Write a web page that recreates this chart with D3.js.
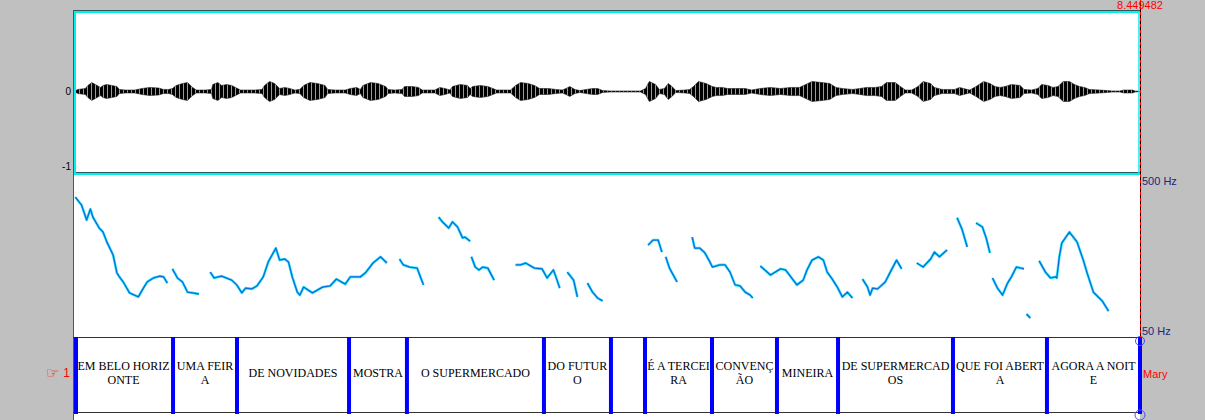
<!DOCTYPE html>
<html>
<head>
<meta charset="utf-8">
<script src="https://cdn.jsdelivr.net/npm/d3@7"></script>
<style>
body { margin: 0; background: #c0c0c0; overflow: hidden; }
svg { display: block; }
.lbl { font-family: Arial, "Liberation Sans", sans-serif; font-size: 11px; }
.tier text { font-family: "Liberation Serif", "Times New Roman", serif; font-size: 12px; fill: #000; }
</style>
</head>
<body>
<div id="chart"></div>
<script>
// total duration of the sound (s)
var duration = 8.449482;

// amplitude envelope of the waveform (time in s, peak amplitude)
var waveTime = [0.00,0.03,0.09,0.11,0.14,0.17,0.21,0.23,0.26,0.30,0.34,0.36,0.41,0.48,0.54,0.60,0.67,0.71,0.75,0.78,
  0.81,0.86,0.90,0.94,0.97,1.04,1.09,1.10,1.14,1.17,1.21,1.25,1.28,1.32,1.43,1.49,1.51,1.55,1.59,1.63,
  1.67,1.71,1.75,1.79,1.82,1.87,1.93,1.99,2.01,2.07,2.15,2.19,2.24,2.27,2.29,2.35,2.41,2.47,2.49,2.54,
  2.60,2.62,2.68,2.73,2.76,2.86,2.90,2.94,2.98,3.00,3.06,3.12,3.14,3.16,3.22,3.28,3.32,3.35,3.46,3.50,
  3.54,3.60,3.65,3.69,3.76,3.82,3.87,3.90,3.93,3.97,4.01,4.06,4.11,4.15,4.19,4.25,4.49,4.53,4.56,4.61,
  4.64,4.68,4.71,4.74,4.77,4.84,4.88,4.91,4.95,5.01,5.06,5.09,5.14,5.18,5.24,5.32,5.37,5.44,5.52,5.60,
  5.68,5.75,5.80,5.85,5.93,5.99,6.04,6.09,6.17,6.23,6.28,6.35,6.40,6.44,6.51,6.55,6.59,6.64,6.69,6.73,
  6.79,6.82,6.88,6.98,7.02,7.05,7.10,7.15,7.21,7.26,7.30,7.34,7.38,7.43,7.50,7.53,7.59,7.64,7.67,7.72,
  7.76,7.80,7.84,7.89,7.93,7.97,8.01,8.05,8.13,8.19,8.23,8.29,8.32,8.39,8.41,8.45];
var waveAmp = [0,0.025,0.037,0.074,0.11,0.086,0.05,0.074,0.086,0.074,0.061,0.025,0.018,0.018,0.037,0.05,0.043,0.025,0.025,0.037,
  0.074,0.098,0.11,0.05,0.018,0.018,0.025,0.086,0.11,0.074,0.086,0.074,0.05,0.018,0.018,0.025,0.074,0.123,0.098,0.037,
  0.05,0.037,0.018,0.025,0.074,0.11,0.098,0.074,0.025,0.018,0.018,0.037,0.05,0.025,0.074,0.11,0.098,0.061,0.025,0.018,
  0.025,0.061,0.061,0.05,0.018,0.018,0.05,0.037,0.018,0.061,0.086,0.074,0.037,0.061,0.074,0.061,0.037,0.018,0.018,0.074,
  0.11,0.098,0.074,0.037,0.037,0.025,0.018,0.037,0.061,0.025,0.012,0.025,0.037,0.037,0.012,0.006,0.006,0.037,0.123,0.086,
  0.025,0.037,0.098,0.061,0.012,0.018,0.025,0.061,0.123,0.098,0.061,0.05,0.05,0.037,0.037,0.037,0.018,0.037,0.05,0.037,
  0.05,0.05,0.086,0.123,0.11,0.098,0.05,0.037,0.025,0.037,0.05,0.05,0.061,0.11,0.11,0.061,0.018,0.018,0.061,0.123,
  0.098,0.05,0.025,0.025,0.05,0.037,0.018,0.061,0.123,0.098,0.061,0.05,0.061,0.086,0.074,0.025,0.018,0.037,0.086,0.074,
  0.05,0.061,0.123,0.123,0.086,0.061,0.05,0.025,0.018,0.012,0.006,0.006,0.018,0.018,0.006,0];

// pitch contour, one array per voiced stretch (time in s, F0 in Hz)
var pitchTimes = [
  [0.01,0.06,0.10,0.13,0.15,0.20,0.23,0.26,0.31,0.34,0.36,0.39,0.44,0.51,0.55,0.58,0.63,0.68,0.71,0.74],
  [0.78,0.82,0.86,0.90,0.94,0.99],
  [1.08,1.11,1.17,1.25,1.29,1.33,1.36,1.41,1.45,1.50,1.54,1.60,1.63,1.67,1.70,1.73,1.77,1.79,1.82,1.89,1.97,2.03,2.08,2.15,2.19,2.27,2.31,2.37,2.43,2.48],
  [2.58,2.61,2.66,2.72,2.74,2.77],
  [2.89,2.92,2.97,3.00,3.04,3.08,3.10,3.14],
  [3.15,3.18,3.21,3.24,3.28,3.33],
  [3.50,3.54,3.58,3.65,3.71,3.75,3.80,3.82,3.85],
  [3.91,3.96,3.99],
  [4.07,4.11,4.15,4.19],
  [4.55,4.59,4.63,4.66],
  [4.69,4.72,4.78],
  [4.90,4.92,4.96,5.00,5.04,5.06,5.12,5.16,5.20,5.24,5.28,5.32,5.36,5.38],
  [5.44,5.52,5.60,5.64,5.73,5.78,5.81,5.85,5.90,5.94,5.97,6.01,6.05,6.09,6.13,6.17],
  [6.25,6.29,6.31,6.33,6.37,6.43,6.47,6.52,6.56],
  [6.68,6.73,6.79,6.82,6.86,6.92],
  [7.00,7.04,7.08],
  [7.15,7.20,7.23,7.26],
  [7.28,7.32,7.36,7.40,7.43,7.47,7.53],
  [7.55,7.58],
  [7.65,7.70,7.74,7.78,7.79,7.81,7.83,7.89,7.95,8.00,8.03,8.08,8.15,8.20]
];
var pitchHz = [
  [434,412,371,401,379,349,338,311,275,226,215,201,171,160,184,201,212,217,215,198],
  [237,212,201,173,171,168],
  [228,212,217,206,193,171,184,182,190,215,256,294,261,264,256,215,173,165,187,171,187,190,209,195,215,215,226,253,270,253],
  [264,248,242,239,220,193],
  [379,366,349,366,352,322,324,313],
  [270,242,234,242,239,206],
  [248,248,253,239,237,212,234,215,184],
  [228,206,160],
  [198,173,157,149],
  [302,316,316,283],
  [270,239,201],
  [324,294,294,281,256,242,248,248,228,193,190,173,165,157],
  [245,220,237,234,193,206,234,261,270,261,228,209,187,160,173,157],
  [209,187,165,184,182,201,228,261,237],
  [253,242,264,283,270,289],
  [377,344,297],
  [363,352,322,281],
  [212,184,165,198,215,242,237],
  [113,102],
  [259,228,212,215,212,270,308,338,311,261,226,173,149,121]
];

// interval tier "Mary"
var tierBounds = [0,0.785,1.292,2.180,2.639,3.725,4.256,4.526,5.057,5.572,6.056,6.967,7.712,duration];
var tierLabels = ["EM BELO HORIZ\nONTE","UMA FEIR\nA","DE NOVIDADES","MOSTRA","O SUPERMERCADO","DO FUTUR\nO","",
  "É A TERCEI\nRA","CONVENÇ\nÃO","MINEIRA","DE SUPERMERCAD\nOS","QUE FOI ABERT\nA","AGORA A NOIT\nE"];
var tierName = "Mary";

var width = 1205, height = 420;
var left = 74, right = 1140;

var svg = d3.select("#chart").append("svg")
    .attr("width", width)
    .attr("height", height);

var x = d3.scaleLinear().domain([0, duration]).range([left, right]);
var yWave = d3.scaleLinear().domain([-1, 1]).range([173, 10]);
var yPitch = d3.scaleLinear().domain([50, 500]).range([337, 173]);

// texture for the waveform bursts
var pat = svg.append("defs").append("pattern")
    .attr("id", "stripes")
    .attr("patternUnits", "userSpaceOnUse")
    .attr("width", 4).attr("height", 8);
pat.append("rect").attr("width", 4).attr("height", 8).attr("fill", "#000");
pat.append("rect").attr("x", 3).attr("width", 1).attr("height", 8).attr("fill", "#9a9a9a");

svg.append("rect")
    .attr("x", left).attr("y", 10)
    .attr("width", right - left).attr("height", height - 10)
    .attr("fill", "#fff");

// waveform
svg.append("line")
    .attr("x1", left).attr("x2", right)
    .attr("y1", yWave(0)).attr("y2", yWave(0))
    .attr("stroke", "#4a6a6a").attr("stroke-width", 1);

var wave = waveTime.map(function(t, i) { return {t: t, a: waveAmp[i]}; });
var area = d3.area()
    .x(function(d) { return x(d.t); })
    .y0(function(d) { return yWave(-d.a); })
    .y1(function(d) { return yWave(d.a); })
    .curve(d3.curveLinear);
svg.append("path")
    .datum(wave)
    .attr("d", area)
    .attr("fill", "url(#stripes)")
    .attr("stroke", "#222")
    .attr("stroke-width", 0.6);

svg.append("text").attr("class", "lbl")
    .attr("x", 71).attr("y", yWave(0)).attr("dy", "0.35em")
    .attr("text-anchor", "end").style("font-size", "10px").text("0");
svg.append("text").attr("class", "lbl")
    .attr("x", 71).attr("y", 166).attr("dy", "0.35em")
    .attr("text-anchor", "end").style("font-size", "10px").text("-1");

// frame of the waveform channel
svg.append("line").attr("x1", 73).attr("x2", right).attr("y1", 10.5).attr("y2", 10.5).attr("stroke", "#2b5a5a");
svg.append("line").attr("x1", 74).attr("x2", right).attr("y1", 12).attr("y2", 12).attr("stroke", "#00f0f0").attr("stroke-width", 2);
svg.append("line").attr("x1", 74).attr("x2", right).attr("y1", 172.5).attr("y2", 172.5).attr("stroke", "#2b5a5a");
svg.append("line").attr("x1", 74).attr("x2", right).attr("y1", 174).attr("y2", 174).attr("stroke", "#00f0f0").attr("stroke-width", 2);
svg.append("line").attr("x1", 75).attr("x2", 75).attr("y1", 11).attr("y2", 173).attr("stroke", "#00f0f0").attr("stroke-width", 2);
svg.append("line").attr("x1", 1139).attr("x2", 1139).attr("y1", 11).attr("y2", 173).attr("stroke", "#00f0f0").attr("stroke-width", 1.5);
svg.append("line").attr("x1", 73.5).attr("x2", 73.5).attr("y1", 10).attr("y2", height).attr("stroke", "#555");

// pitch
var pitchLine = d3.line()
    .x(function(d) { return x(d[0]); })
    .y(function(d) { return yPitch(d[1]); });
var segs = pitchTimes.map(function(ts, i) {
  return ts.map(function(t, j) { return [t, pitchHz[i][j]]; });
});
svg.selectAll(".pitch-halo")
    .data(segs)
    .enter().append("path")
    .attr("class", "pitch-halo")
    .attr("d", pitchLine)
    .attr("fill", "none")
    .attr("stroke", "#33e6ff")
    .attr("stroke-width", 2.6)
    .attr("stroke-linejoin", "round");
svg.selectAll(".pitch")
    .data(segs)
    .enter().append("path")
    .attr("class", "pitch")
    .attr("d", pitchLine)
    .attr("fill", "none")
    .attr("stroke", "#0a6fd8")
    .attr("stroke-width", 1.3)
    .attr("stroke-linejoin", "round");

svg.append("text").attr("class", "lbl")
    .attr("x", 1142).attr("y", 181).attr("dy", "0.35em")
    .attr("fill", "#23237a").text("500 Hz");
svg.append("text").attr("class", "lbl")
    .attr("x", 1142).attr("y", 331).attr("dy", "0.35em")
    .attr("fill", "#23237a").text("50 Hz");

// interval tier
var tier = svg.append("g").attr("class", "tier");
tier.append("line").attr("x1", 73).attr("x2", right).attr("y1", 337.5).attr("y2", 337.5).attr("stroke", "#333");
tier.append("line").attr("x1", 73).attr("x2", right).attr("y1", 412.5).attr("y2", 412.5).attr("stroke", "#333");

var intervals = tierLabels.map(function(s, i) {
  return {t0: tierBounds[i], t1: tierBounds[i + 1], text: s};
});
var labels = tier.selectAll(".intv")
    .data(intervals)
    .enter().append("text")
    .attr("class", "intv")
    .attr("text-anchor", "middle");
labels.each(function(d) {
  var lines = d.text.split("\n");
  var cx = (x(d.t0) + x(d.t1)) / 2;
  var y0 = lines.length > 1 ? 366 : 373;
  d3.select(this).selectAll("tspan")
      .data(lines)
      .enter().append("tspan")
      .attr("x", cx)
      .attr("y", function(l, k) { return y0 + k * 14; })
      .attr("dy", "0.35em")
      .text(function(l) { return l; });
});

tier.selectAll(".bound")
    .data(tierBounds)
    .enter().append("rect")
    .attr("class", "bound")
    .attr("x", function(d) { return Math.max(left, Math.min(right - 2, x(d) - 2)); })
    .attr("y", 337)
    .attr("width", 4)
    .attr("height", 77)
    .attr("fill", "#0000ff");

svg.append("circle").attr("cx", right).attr("cy", 341).attr("r", 4.5)
    .attr("fill", "none").attr("stroke", "#4b4bff");
svg.append("circle").attr("cx", right).attr("cy", 415).attr("r", 5)
    .attr("fill", "none").attr("stroke", "#4b4bff");

svg.append("text").attr("class", "lbl")
    .attr("x", 1143).attr("y", 374).attr("dy", "0.35em")
    .attr("fill", "#ff0000").text(tierName);
svg.append("text").attr("class", "lbl")
    .attr("x", 59).attr("y", 373).attr("dy", "0.35em")
    .attr("text-anchor", "end").style("font-size", "15px")
    .attr("fill", "#ff0000").text("\u261E");
svg.append("text").attr("class", "lbl")
    .attr("x", 70).attr("y", 373).attr("dy", "0.35em")
    .attr("text-anchor", "end").style("font-size", "12px")
    .attr("fill", "#ff0000").text("1");

// cursor at the end of the sound
svg.append("line").attr("x1", right + 0.5).attr("x2", right + 0.5)
    .attr("y1", 0).attr("y2", 337).attr("stroke", "#000");
svg.append("line").attr("x1", right + 0.5).attr("x2", right + 0.5)
    .attr("y1", 0).attr("y2", 337).attr("stroke", "#ff0000")
    .attr("stroke-dasharray", "3,3");
svg.append("text").attr("class", "lbl")
    .attr("x", right).attr("y", 9)
    .attr("text-anchor", "middle")
    .attr("fill", "#ff0000").text(duration.toString());
</script>
</body>
</html>
